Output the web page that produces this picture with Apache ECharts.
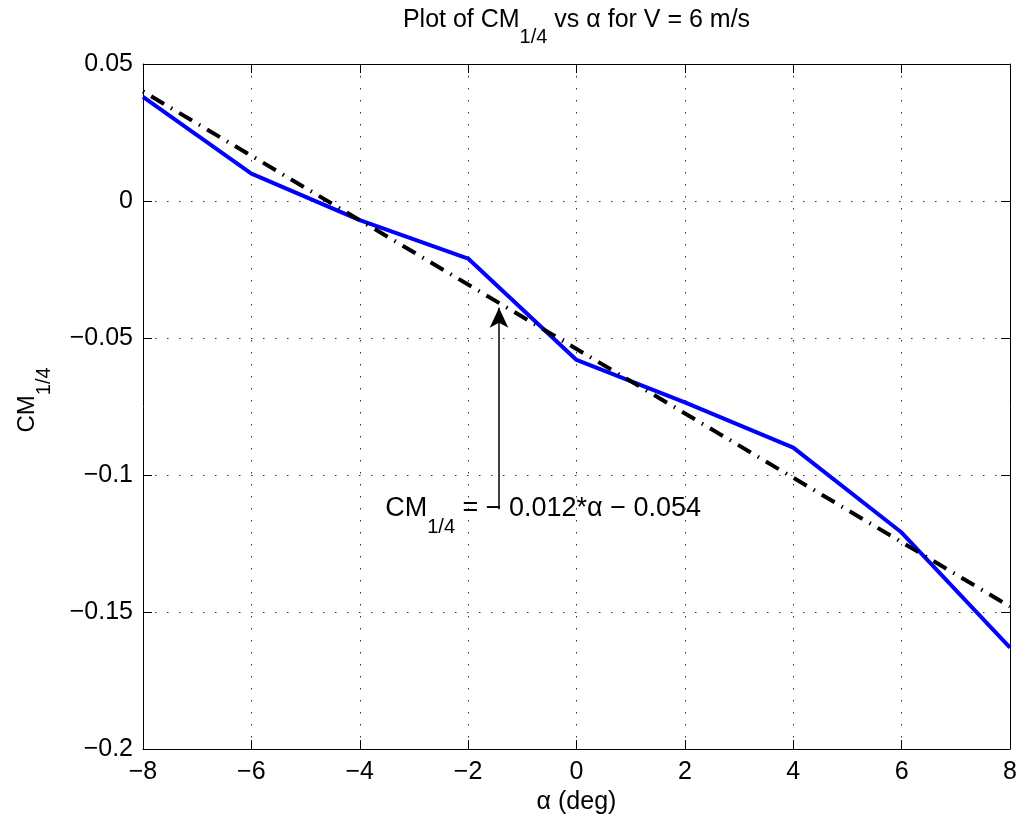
<!DOCTYPE html>
<html>
<head>
<meta charset="utf-8">
<script src="https://cdn.jsdelivr.net/npm/echarts@6/dist/echarts.min.js"></script>
<style>
  html, body { margin: 0; padding: 0; background: #fff; }
  #chart { width: 1027px; height: 822px; }
</style>
</head>
<body>
<div id="chart"></div>
<script>
// measured quarter-chord moment vs angle of attack
const alphaDeg = [-8, -6, -4, -2, 0, 2, 4, 6, 8];
const cmMeasured = [0.038, 0.010, -0.007, -0.021, -0.058, -0.0735, -0.090, -0.121, -0.163];

// linear fit line end points
const fitAlpha = [-8, 8];
const cmFit = [0.040, -0.148];

// arrow + annotation
const arrowAlpha = -1.43;
const arrowFromCm = -0.1125;
const arrowToCm = -0.039;
const noteAlpha = -3.53;
const noteCm = -0.1125;

const xRange = [-8, 8, 2];
const yRange = [-0.2, 0.05, 0.05];

const FONT = '"Liberation Sans", Arial, Helvetica, sans-serif';
const TICK_FONT = 25;

const fmt = v => String(+v.toFixed(3)).replace('-', '\u2212');

// rich styles: main text on top of the line box, subscript pushed to the bottom
function richStyles(size, subSize, drop) {
    return {
        m: { fontSize: size, lineHeight: size + 2, verticalAlign: 'top', fontFamily: FONT, color: '#000' },
        s: { fontSize: subSize, lineHeight: Math.round(drop + subSize / 2 + size / 2 + 1), verticalAlign: 'bottom', fontFamily: FONT, color: '#000' }
    };
}

const chart = echarts.init(document.getElementById('chart'));

const baseX = {
    type: 'value', min: xRange[0], max: xRange[1], interval: xRange[2],
    axisLine: { show: true, onZero: false, lineStyle: { color: '#000', width: 1 } },
    axisTick: { show: true, inside: true, length: 9, lineStyle: { color: '#000' } }
};
const baseY = {
    type: 'value', min: yRange[0], max: yRange[1], interval: yRange[2],
    axisLine: { show: true, onZero: false, lineStyle: { color: '#000', width: 1 } },
    axisTick: { show: true, inside: true, length: 9, lineStyle: { color: '#000' } }
};
const dotted = { show: true, lineStyle: { color: '#333', width: 1, type: [1.5, 10.5] } };

chart.setOption({
    animation: false,
    backgroundColor: '#fff',
    grid: { left: 143, right: 17, top: 64, bottom: 73, containLabel: false },
    xAxis: [
        Object.assign({}, baseX, {
            position: 'bottom',
            axisLabel: { fontSize: TICK_FONT, color: '#000', fontFamily: FONT, margin: 11, formatter: fmt },
            splitLine: dotted,
            name: '\u03b1 (deg)', nameLocation: 'middle', nameGap: 40,
            nameTextStyle: { fontSize: TICK_FONT, color: '#000', fontFamily: FONT }
        }),
        Object.assign({}, baseX, { position: 'top', axisLabel: { show: false }, splitLine: { show: false } })
    ],
    yAxis: [
        Object.assign({}, baseY, {
            position: 'left',
            axisLabel: { fontSize: TICK_FONT, color: '#000', fontFamily: FONT, margin: 10, formatter: fmt },
            splitLine: dotted
        }),
        Object.assign({}, baseY, { position: 'right', axisLabel: { show: false }, splitLine: { show: false } })
    ],
    series: [
        {
            name: 'measured', type: 'line', xAxisIndex: 0, yAxisIndex: 0,
            data: alphaDeg.map((a, i) => [a, cmMeasured[i]]),
            showSymbol: false, symbol: 'none',
            lineStyle: { color: '#0000ff', width: 4 }
        },
        {
            name: 'fit', type: 'line', xAxisIndex: 0, yAxisIndex: 0,
            data: fitAlpha.map((a, i) => [a, cmFit[i]]),
            showSymbol: false, symbol: 'none',
            lineStyle: { color: '#000', width: 4, type: [15, 8, 1.5, 8], dashOffset: 23, cap: 'butt' },
            markLine: {
                silent: true, animation: false,
                symbol: ['none', 'arrow'], symbolSize: [14, 20],
                label: { show: false },
                lineStyle: { color: '#000', width: 1.5, type: 'solid' },
                data: [[{ coord: [arrowAlpha, arrowFromCm] }, { coord: [arrowAlpha, arrowToCm] }]]
            }
        }
    ]
});

const notePx = chart.convertToPixel({ gridIndex: 0 }, [noteAlpha, noteCm]);
const plotCenterX = chart.convertToPixel({ xAxisIndex: 0 }, 0);

chart.setOption({
    graphic: [
        {
            type: 'text', x: plotCenterX, y: 8, silent: true,
            style: {
                text: '{m|Plot of CM}{s|1/4}{m| vs \u03b1 for V = 6 m/s}',
                align: 'center', verticalAlign: 'top',
                rich: richStyles(25, 20, 15)
            }
        },
        {
            type: 'text', x: 15, y: 400, rotation: Math.PI / 2, silent: true,
            style: {
                text: '{m|CM}{s|1/4}',
                align: 'center', verticalAlign: 'top',
                rich: richStyles(24, 20, 16)
            }
        },
        {
            type: 'text', x: notePx[0], y: notePx[1] - 14, silent: true,
            style: {
                text: '{m|CM}{s|1/4}{m| = \u2212 0.012*\u03b1 \u2212 0.054}',
                align: 'left', verticalAlign: 'top',
                rich: richStyles(27, 20, 17)
            }
        }
    ]
});
</script>
</body>
</html>
